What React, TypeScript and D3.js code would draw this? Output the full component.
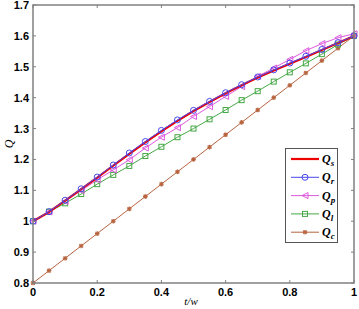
import React from "react";
import * as d3 from "d3";

const tValues = d3.range(0, 21).map((i) => i / 20);
const qsValues = [1.0, 1.03, 1.067, 1.104, 1.141, 1.18, 1.218, 1.255, 1.291, 1.325, 1.357, 1.386, 1.414, 1.44, 1.465, 1.488, 1.51, 1.532, 1.554, 1.577, 1.6];
const qrValues = [1.0, 1.031, 1.068, 1.105, 1.143, 1.182, 1.221, 1.258, 1.294, 1.328, 1.359, 1.388, 1.416, 1.442, 1.467, 1.49, 1.512, 1.534, 1.556, 1.578, 1.6];
const qpValues = [1.0, 1.03, 1.064, 1.099, 1.134, 1.166, 1.199, 1.237, 1.272, 1.303, 1.339, 1.371, 1.404, 1.436, 1.469, 1.496, 1.524, 1.552, 1.575, 1.594, 1.607];
const qlValues = [1.0, 1.031, 1.058, 1.088, 1.12, 1.15, 1.179, 1.211, 1.241, 1.272, 1.3, 1.33, 1.36, 1.392, 1.421, 1.452, 1.482, 1.511, 1.541, 1.572, 1.6];
const qcValues = [0.8, 0.84, 0.88, 0.92, 0.96, 1.0, 1.04, 1.08, 1.12, 1.16, 1.2, 1.24, 1.28, 1.32, 1.36, 1.4, 1.44, 1.48, 1.52, 1.56, 1.6];
const xTicks = [0, 0.2, 0.4, 0.6, 0.8, 1];
const xTickLabels = ["0", "0.2", "0.4", "0.6", "0.8", "1"];
const yTicks = [0.8, 0.9, 1, 1.1, 1.2, 1.3, 1.4, 1.5, 1.6, 1.7];
const yTickLabels = ["0.8", "0.9", "1", "1.1", "1.2", "1.3", "1.4", "1.5", "1.6", "1.7"];

type Series = { key: string; sub: string; values: number[]; color: string; marker: string; width: number };
const series: Series[] = [
  { key: "Qc", sub: "c", values: qcValues, color: "#b8643f", marker: "star", width: 1 },
  { key: "Ql", sub: "l", values: qlValues, color: "#45a845", marker: "square", width: 1 },
  { key: "Qp", sub: "p", values: qpValues, color: "#dc5adc", marker: "tri", width: 1 },
  { key: "Qs", sub: "s", values: qsValues, color: "#ee0000", marker: "none", width: 2.2 },
  { key: "Qr", sub: "r", values: qrValues, color: "#4848ee", marker: "circle", width: 1 },
];
const legendOrder = ["Qs", "Qr", "Qp", "Ql", "Qc"];

const W = 359, H = 309;
const x = d3.scaleLinear().domain([0, 1]).range([33, 354]);
const y = d3.scaleLinear().domain([0.8, 1.7]).range([283, 5]);

function Marker({ type, cx, cy, color }: { type: string; cx: number; cy: number; color: string }) {
  if (type === "circle") return <circle cx={cx} cy={cy} r={3} fill="none" stroke={color} strokeWidth={1} />;
  if (type === "square") return <rect x={cx - 2.5} y={cy - 2.5} width={5} height={5} fill="none" stroke={color} strokeWidth={1} />;
  if (type === "tri") {
    const s = 3;
    return <path d={`M${cx - s},${cy}L${cx + s},${cy - s}L${cx + s},${cy + s}Z`} fill="none" stroke={color} strokeWidth={1} />;
  }
  if (type === "star") {
    const s = 2.3;
    return (
      <g stroke={color} strokeWidth={1.2}>
        <line x1={cx - s} y1={cy} x2={cx + s} y2={cy} />
        <line x1={cx} y1={cy - s} x2={cx} y2={cy + s} />
        <line x1={cx - s * 0.75} y1={cy - s * 0.75} x2={cx + s * 0.75} y2={cy + s * 0.75} />
        <line x1={cx - s * 0.75} y1={cy + s * 0.75} x2={cx + s * 0.75} y2={cy - s * 0.75} />
      </g>
    );
  }
  return null;
}

export default function App() {
  const line = d3.line<number>().x((_, i) => x(tValues[i])).y((v) => y(v));
  const axisColor = "#808080";
  const tickFont = { fontFamily: "Liberation Sans, Arial, sans-serif", fontWeight: 700, fontSize: 11 };
  const legendX = 285.5, legendY = 148.5, legendW = 52, legendH = 94;
  return (
    <svg width={W} height={H} style={{ position: "absolute", left: 0, top: 0 }}>
      <rect x={0} y={0} width={W} height={H} fill="#fff" />
      {series.map((s) => (
        <g key={s.key}>
          <path d={line(s.values) || ""} fill="none" stroke={s.color} strokeWidth={s.width} />
          {s.values.map((v, i) => (
            <Marker key={i} type={s.marker} cx={x(tValues[i])} cy={y(v)} color={s.color} />
          ))}
        </g>
      ))}
      <rect x={x(0)} y={y(1.7)} width={x(1) - x(0)} height={y(0.8) - y(1.7)} fill="none" stroke={axisColor} strokeWidth={1.5} />
      {xTicks.map((t, i) => (
        <g key={"x" + i}>
          <line x1={x(t)} x2={x(t)} y1={y(0.8)} y2={y(0.8) - 3} stroke={axisColor} />
          <line x1={x(t)} x2={x(t)} y1={y(1.7)} y2={y(1.7) + 3} stroke={axisColor} />
          <text x={x(t)} y={y(0.8) + 13} textAnchor="middle" {...tickFont} fill="#000">{xTickLabels[i]}</text>
        </g>
      ))}
      {yTicks.map((t, i) => (
        <g key={"y" + i}>
          <line x1={x(0)} x2={x(0) + 3} y1={y(t)} y2={y(t)} stroke={axisColor} />
          <line x1={x(1)} x2={x(1) - 3} y1={y(t)} y2={y(t)} stroke={axisColor} />
          <text x={29} y={y(t) + 4} textAnchor="end" {...tickFont} fill="#000">{yTickLabels[i]}</text>
        </g>
      ))}
      <text x={191} y={305} textAnchor="middle" fontFamily="Liberation Serif, Times New Roman, serif" fontStyle="italic" fontSize={11}>t/w</text>
      <text transform="translate(13,144) rotate(-90)" textAnchor="middle" fontFamily="Liberation Serif, Times New Roman, serif" fontStyle="italic" fontSize={12}>Q</text>
      <rect x={legendX} y={legendY} width={legendW} height={legendH} fill="#fff" stroke="#555" strokeWidth={1} />
      {legendOrder.map((k, i) => {
        const s = series.find((ss) => ss.key === k)!;
        const ly = 159 + i * 18.3;
        return (
          <g key={"l" + k}>
            <line x1={291} x2={319} y1={ly} y2={ly} stroke={s.color} strokeWidth={s.width} />
            <Marker type={s.marker} cx={305} cy={ly} color={s.color} />
            <text x={322} y={ly + 4} fontFamily="Liberation Serif, Times New Roman, serif" fontStyle="italic" fontWeight={700} fontSize={12}>
              Q<tspan dy={3} fontSize={9}>{s.sub}</tspan>
            </text>
          </g>
        );
      })}
    </svg>
  );
}
